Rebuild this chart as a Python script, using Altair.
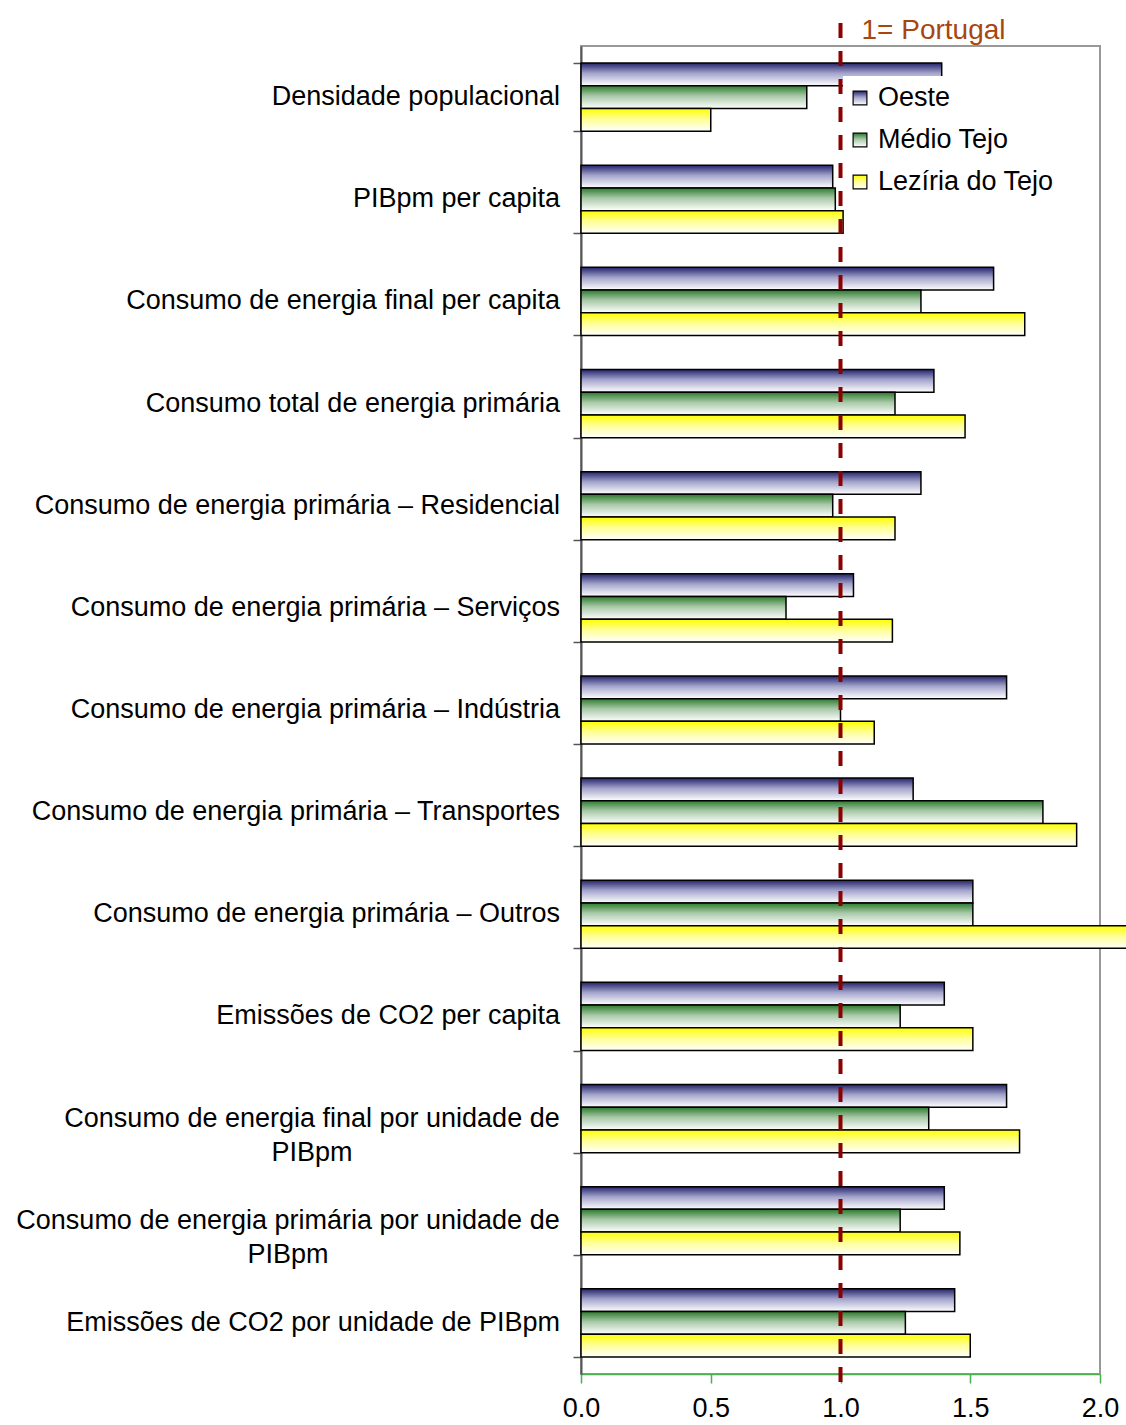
import altair as alt
import pandas as pd

FONT = "Liberation Sans"

# Indicators (index, 1 = Portugal)
indicators = [
    "Densidade populacional",
    "PIBpm per capita",
    "Consumo de energia final per capita",
    "Consumo total de energia primária",
    "Consumo de energia primária – Residencial",
    "Consumo de energia primária – Serviços",
    "Consumo de energia primária – Indústria",
    "Consumo de energia primária – Transportes",
    "Consumo de energia primária – Outros",
    "Emissões de CO2 per capita",
    "Consumo de energia final por unidade de PIBpm",
    "Consumo de energia primária por unidade de PIBpm",
    "Emissões de CO2 por unidade de PIBpm",
]

oeste = [1.39, 0.97, 1.59, 1.36, 1.31, 1.05, 1.64, 1.28, 1.51, 1.40, 1.64, 1.40, 1.44]
medio_tejo = [0.87, 0.98, 1.31, 1.21, 0.97, 0.79, 1.00, 1.78, 1.51, 1.23, 1.34, 1.23, 1.25]
leziria = [0.50, 1.01, 1.71, 1.48, 1.21, 1.20, 1.13, 1.91, 2.30, 1.51, 1.69, 1.46, 1.50]

series_names = ["Oeste", "Médio Tejo", "Lezíria do Tejo"]

# Long labels that are broken over two lines
wrapped = {
    "Consumo de energia final por unidade de PIBpm": ["Consumo de energia final por unidade de", "PIBpm"],
    "Consumo de energia primária por unidade de PIBpm": ["Consumo de energia primária por unidade de", "PIBpm"],
}

rows = []
for i, ind in enumerate(indicators):
    for name, vals in zip(series_names, [oeste, medio_tejo, leziria]):
        rows.append({"indicador": ind, "regiao": name, "valor": vals[i]})
df = pd.DataFrame(rows)

single_df = pd.DataFrame({"indicador": [c for c in indicators if c not in wrapped]})
legend_df = pd.DataFrame({"regiao": series_names})
one = pd.DataFrame({"k": [0]})


def grad(top, mid):
    return alt.Gradient(
        gradient="linear",
        stops=[
            alt.GradientStop(color=top, offset=0),
            alt.GradientStop(color=mid, offset=0.45),
            alt.GradientStop(color="#ffffff", offset=1),
        ],
        x1=0, x2=0, y1=0, y2=1,
    )


fills = {
    "Oeste": grad("#23236b", "#a4a4cc"),
    "Médio Tejo": grad("#2c7a2c", "#a9c9a9"),
    "Lezíria do Tejo": grad("#ffff00", "#ffff90"),
}

Y = alt.Y(
    "indicador:N",
    scale=alt.Scale(domain=indicators, paddingInner=0.333, paddingOuter=0.167),
    axis=alt.Axis(labels=False, title=None, tickBand="extent", tickSize=8,
                  tickColor="#555555", tickWidth=1.5, domainColor="#555555",
                  domainWidth=2, grid=False),
)
YOFF = alt.YOffset("regiao:N", scale=alt.Scale(domain=series_names, paddingInner=0, paddingOuter=0))
X = alt.X(
    "valor:Q",
    scale=alt.Scale(domain=[0, 2], nice=False, zero=True),
    axis=alt.Axis(values=[0, 0.5, 1, 1.5, 2], format=".1f", title=None, grid=False,
                  domainColor="#4caf50", domainWidth=1.5, tickColor="#4caf50",
                  tickWidth=1.5, tickSize=9, labelFontSize=27, labelFont=FONT,
                  labelColor="black", labelPadding=12, labelFlush=False),
)

bars = [
    alt.Chart(df)
    .transform_filter(alt.datum.regiao == name)
    .mark_bar(fill=fills[name], stroke="black", strokeWidth=1.5)
    .encode(x=X, y=Y, yOffset=YOFF)
    for name in series_names
]

text_style = dict(fontSize=27, font=FONT, color="black", baseline="middle")

single_labels = (
    alt.Chart(single_df)
    .mark_text(align="right", **text_style)
    .encode(y=Y, x=alt.value(-21), text="indicador:N")
)

# Two-line labels: centred block whose right edge sits by the axis
wrap_centres = {
    "Consumo de energia final por unidade de PIBpm": -269,
    "Consumo de energia primária por unidade de PIBpm": -293,
}
wrap_layers = []
for full, lines in wrapped.items():
    wdf = pd.DataFrame({"indicador": [full]})
    wrap_layers.append(
        alt.Chart(wdf)
        .mark_text(align="center", lineHeight=34, text=lines, **text_style)
        .encode(y=Y, x=alt.value(wrap_centres[full]))
    )

main = alt.layer(*bars, single_labels, *wrap_layers)

# Legend drawn inside the plot on a white panel
LY = alt.Y(
    "regiao:N",
    scale=alt.Scale(type="point", domain=series_names, range=[52, 136], padding=0),
    axis=None,
)
legend_bg = alt.Chart(one).mark_rect(fill="white").encode(
    x=alt.value(262), x2=alt.value(490), y=alt.value(30), y2=alt.value(158)
)
legend_syms = [
    alt.Chart(legend_df)
    .transform_filter(alt.datum.regiao == name)
    .mark_square(size=190, fill=fills[name], stroke="black", strokeWidth=1.2, opacity=1)
    .encode(y=LY, x=alt.value(279))
    for name in series_names
]
legend_text = (
    alt.Chart(legend_df)
    .mark_text(align="left", **text_style)
    .encode(y=LY, x=alt.value(297), text="regiao:N")
)
legend = alt.layer(legend_bg, *legend_syms, legend_text)

# Reference line at 1 (Portugal)
ref_rule = alt.Chart(one).mark_rule(color="#8b0000", strokeWidth=4, strokeDash=[15, 13]).encode(
    x=alt.datum(1.0), y=alt.value(-23), y2=alt.value(1339)
)
ref_text = alt.Chart(one).mark_text(
    text="1= Portugal", align="left", baseline="alphabetic", fontSize=28, font=FONT,
    color="#a8460f", dx=21,
).encode(x=alt.datum(1.0), y=alt.value(-7))

chart = (
    alt.layer(main, legend, ref_rule, ref_text)
    .resolve_scale(y="independent")
    .properties(
        width=519,
        height=1328,
        autosize=alt.AutoSizeParams(type="none"),
        padding={"left": 581, "top": 46, "right": 26, "bottom": 51},
        background="white",
    )
    .configure_view(stroke="#999999", strokeWidth=2)
)

chart.save("out.html", embed_options={"renderer": "svg", "actions": False})
